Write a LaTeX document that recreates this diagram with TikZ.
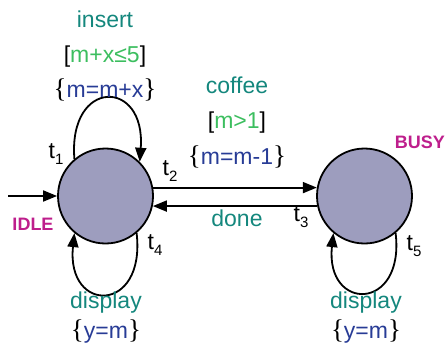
\documentclass[tikz,border=0pt]{standalone}
\usepackage{fontspec}
\setmainfont{Liberation Sans}
\newfontfamily\bracefont{Liberation Serif}
\usetikzlibrary{arrows.meta}
\definecolor{actcol}{RGB}{20,135,125}
\definecolor{guardcol}{RGB}{60,190,95}
\definecolor{updcol}{RGB}{40,60,150}
\definecolor{namecol}{RGB}{190,30,140}
\definecolor{statefill}{RGB}{157,157,190}
\newcommand\tsub[1]{t\raisebox{-6pt}{\fontsize{15}{15}\selectfont #1}}
\newcommand\lb{{\bracefont\fontsize{27}{27}\selectfont\{}}
\newcommand\rb{{\bracefont\fontsize{27}{27}\selectfont\}}}
\begin{document}
\begin{tikzpicture}[x=1pt,y=-1pt,
  state/.style={circle, draw, line width=1.8pt, fill=statefill, minimum size=95pt, inner sep=0pt},
  edge/.style={line width=1.8pt, -{Triangle[length=14pt,width=11pt]}},
  lbl/.style={anchor=base, inner sep=0pt, font=\fontsize{23}{27}\selectfont},
  act/.style={lbl, text=actcol},
  tl/.style={lbl, text=black},
  sname/.style={anchor=base, inner sep=0pt, text=namecol, font=\fontsize{18}{20}\selectfont\bfseries}]
\useasboundingbox (0,0) rectangle (446,351);

\node[state] (idle) at (105.5,196) {};
\node[state] (busy) at (364.5,196) {};
\coordinate (init) at (8,196);

% state names
\node[sname] (idlename) at (33,230) {IDLE};
\node[sname, anchor=base east] (busyname) at (445,148) {BUSY};

% edges
\draw[edge] (init) -- (idle.west);
\draw[edge] (idle.130) .. controls (68,78) and (146,78) .. (idle.45);
\draw[edge] (idle.10) -- (busy.170);
\draw[edge] (busy.-168) -- (idle.-12);
\draw[edge] (idle.-50) .. controls (146,314) and (66,314) .. (idle.-130);
\draw[edge] (busy.-50) .. controls (405,312) and (325,312) .. (busy.-130);

% insert loop labels
\node[act] (insert) at (105,27) {insert};
\node[lbl] (g1) at (105,62) {[\textcolor{guardcol}{m+x≤5}]};
\node[lbl] (u1) at (105,97) {\lb\textcolor{updcol}{m=m+x}\rb};
\node[tl] (t1) at (56,158) {\tsub{1}};

% coffee labels
\node[act] (coffee) at (237,93) {coffee};
\node[lbl] (g2) at (237,128) {[\textcolor{guardcol}{m>1}]};
\node[lbl] (u2) at (237,164) {\lb\textcolor{updcol}{m=m-1}\rb};
\node[tl] (t2) at (170,175) {\tsub{2}};

% done labels
\node[act] (done) at (237,226) {done};
\node[tl] (t3) at (301,221) {\tsub{3}};

% display loops
\node[tl] (t4) at (155,249) {\tsub{4}};
\node[act] (disp1) at (106,308) {display};
\node[lbl] (u4) at (106,338) {\lb\textcolor{updcol}{y=m}\rb};
\node[tl] (t5) at (414,250) {\tsub{5}};
\node[act] (disp2) at (366,308) {display};
\node[lbl] (u5) at (366,338) {\lb\textcolor{updcol}{y=m}\rb};
\end{tikzpicture}
\end{document}
